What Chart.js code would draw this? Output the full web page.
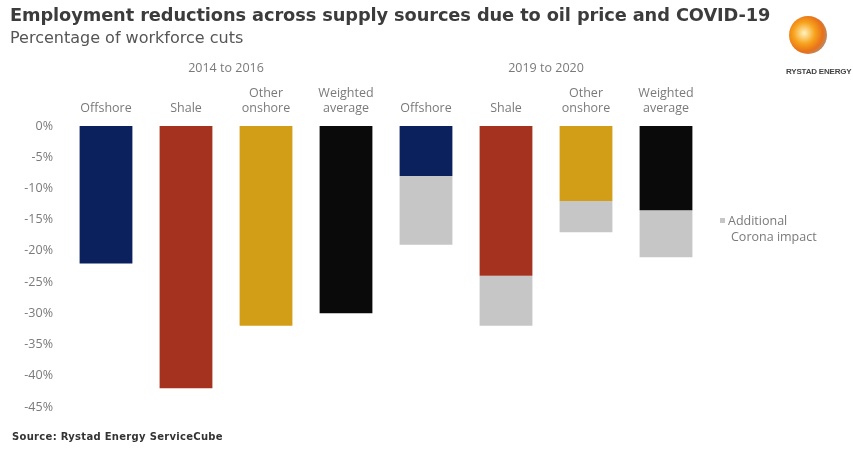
<!DOCTYPE html>
<html>
<head>
<meta charset="utf-8">
<script src="https://cdn.jsdelivr.net/npm/chart.js@4"></script>
<style>
    body { margin: 0; background: #fff; font-family: "Open Sans", sans-serif; }
    #wrap { position: relative; width: 853px; height: 449px; overflow: hidden; }
    #chart { position: absolute; left: 0; top: 0; }
    .title { position: absolute; left: 10px; top: 4px; font: bold 17.8px "DejaVu Sans", sans-serif; color: #3c3c3c; letter-spacing: -0.1px; }
    .subtitle { position: absolute; left: 10px; top: 28px; font: 16px "DejaVu Sans", sans-serif; color: #555; }
    .source { position: absolute; left: 12px; top: 431px; font: bold 10px "DejaVu Sans", sans-serif; color: #333; letter-spacing: 0.3px; }
    .logo { position: absolute; left: 789px; top: 16px; width: 38px; height: 38px; border-radius: 50%;
        background: radial-gradient(circle at 40% 45%, #fff3c0 0%, #f7a21b 35%, #e8711a 60%, #9a9a9a 85%, #cfcfcf 100%); }
    .logo-text { position: absolute; left: 786px; top: 67px; font: bold 8px "Liberation Sans Narrow", "Liberation Sans", sans-serif; color: #444; letter-spacing: -0.2px; }
</style>
</head>
<body>
<div id="wrap">
    <canvas id="chart" width="853" height="449"></canvas>
    <div class="title">Employment reductions across supply sources due to oil price and COVID-19</div>
    <div class="subtitle">Percentage of workforce cuts</div>
    <div class="logo"></div>
    <div class="logo-text">RYSTAD ENERGY</div>
    <div class="source">Source: Rystad Energy ServiceCube</div>
</div>
<script>
    const categories = ['Offshore', 'Shale', ['Other', 'onshore'], ['Weighted', 'average'],
        'Offshore', 'Shale', ['Other', 'onshore'], ['Weighted', 'average']];
    const periods = ['2014 to 2016', '2019 to 2020'];
    const cuts = [-22, -42, -32, -30, -8, -24, -12, -13.5];
    const coronaExtra = [0, 0, 0, 0, -11, -8, -5, -7.5];
    const yTicks = [0, -5, -10, -15, -20, -25, -30, -35, -40, -45];
    const legendLabel = ['Additional', 'Corona impact'];

    const barColors = ['#0b215e', '#a5321f', '#d39e17', '#0a0a0a', '#0b215e', '#a5321f', '#d39e17', '#0a0a0a'];
    const greyColor = '#c6c6c6';
    const labelColor = '#7a7a7a';
    const tickFont = { family: 'Open Sans', size: 12.5 };

    const legendPlugin = {
        id: 'sideLegend',
        afterDraw(chart) {
            const ctx = chart.ctx;
            ctx.save();
            ctx.fillStyle = greyColor;
            ctx.fillRect(720, 218, 5, 5);
            ctx.fillStyle = labelColor;
            ctx.font = '12.5px "Open Sans"';
            ctx.textBaseline = 'middle';
            ctx.fillText(legendLabel[0], 728, 221);
            ctx.fillText(legendLabel[1], 731, 237);
            ctx.restore();
        },
    };

    new Chart(document.getElementById('chart'), {
        type: 'bar',
        data: {
            labels: categories,
            datasets: [
                {
                    label: 'Cuts',
                    data: cuts,
                    backgroundColor: barColors,
                    barPercentage: 0.66,
                    categoryPercentage: 1,
                },
                {
                    label: legendLabel.join(' '),
                    data: coronaExtra,
                    backgroundColor: greyColor,
                    barPercentage: 0.66,
                    categoryPercentage: 1,
                },
            ],
        },
        options: {
            responsive: false,
            animation: false,
            layout: { padding: { left: 0, right: 147, top: 55, bottom: 42 } },
            plugins: {
                legend: { display: false },
                tooltip: { enabled: false },
            },
            scales: {
                x: {
                    position: 'top',
                    stacked: true,
                    weight: 1,
                    grid: { display: false, drawTicks: false },
                    border: { display: false },
                    ticks: { color: labelColor, font: tickFont, padding: 10, maxRotation: 0, autoSkip: false },
                    afterFit: (scale) => { scale.height = 46; },
                },
                period: {
                    type: 'category',
                    labels: periods,
                    position: 'top',
                    weight: 2,
                    grid: { display: false, drawTicks: false },
                    border: { display: false },
                    ticks: { color: labelColor, font: tickFont, padding: 4 },
                    afterFit: (scale) => { scale.height = 25; },
                },
                y: {
                    stacked: true,
                    min: -45,
                    max: 0,
                    afterBuildTicks: (scale) => { scale.ticks = yTicks.map((v) => ({ value: v })); },
                    grid: { display: false, drawTicks: false },
                    border: { display: false },
                    ticks: { color: labelColor, font: tickFont, padding: 13, callback: (v) => v + '%' },
                    afterFit: (scale) => { scale.width = 66; },
                },
            },
        },
        plugins: [legendPlugin],
    });
</script>
</body>
</html>
